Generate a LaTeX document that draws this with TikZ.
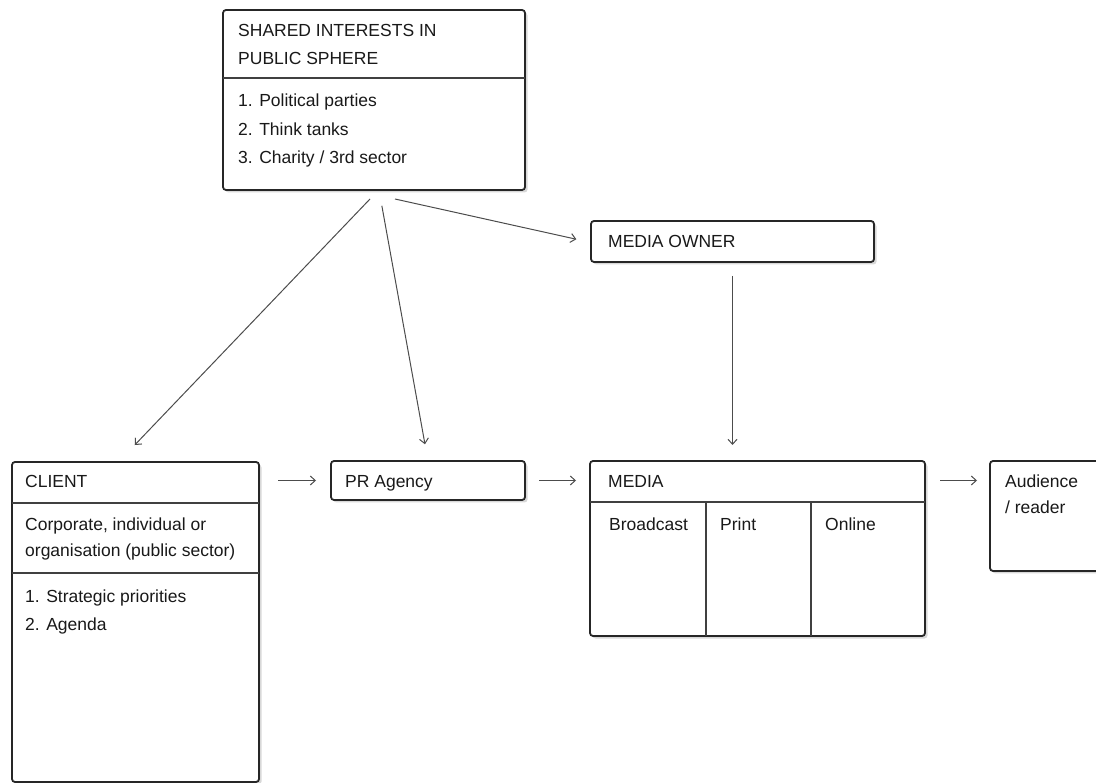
\documentclass[tikz,border=0pt]{standalone}
\usepackage{fontspec}
\setmainfont{Liberation Sans}
\usetikzlibrary{arrows.meta,shadows}

\begin{document}
\begin{tikzpicture}[%
      x=1pt, y=-1pt,
      box/.style={draw=black!85, line width=1.8pt, rounded corners=3pt, fill=white,
        drop shadow={shadow xshift=2.5pt, shadow yshift=-2.5pt, fill=black!30},
        anchor=north west, inner sep=0pt, outer sep=0pt},
      rule/.style={draw=black!75, line width=1.1pt},
      label/.style={anchor=base west, inner sep=0pt, text=black!90,
        font=\fontsize{17.5}{21}\selectfont},
      conn/.style={draw=black!70, line width=1pt,
        -{Straight Barb[length=5pt,width=9pt]}},
      ]
      \clip (0,0) rectangle (1096,783);

      % boxes
      \node[box, minimum width=302pt, minimum height=180pt] (shared) at (223,10) {};
      \node[box, minimum width=283pt, minimum height=41pt] (mowner) at (591,221) {};
      \node[box, minimum width=247pt, minimum height=320pt] (client) at (12,462) {};
      \node[box, minimum width=194pt, minimum height=39pt] (pr) at (331,461) {};
      \node[box, minimum width=335pt, minimum height=175pt] (media) at (590,461) {};
      \node[box, minimum width=130pt, minimum height=110pt] (aud) at (990,461) {};

      % dividers
      \draw[rule] ([yshift=-68pt]shared.north west) -- ([yshift=-68pt]shared.north east);
      \draw[rule] ([yshift=-41pt]client.north west) -- ([yshift=-41pt]client.north east);
      \draw[rule] ([yshift=-111pt]client.north west) -- ([yshift=-111pt]client.north east);
      \draw[rule] ([yshift=-41pt]media.north west) -- ([yshift=-41pt]media.north east);
      \draw[rule] ([shift={(116pt,-41pt)}]media.north west) -- ([xshift=116pt]media.south west);
      \draw[rule] ([shift={(221pt,-41pt)}]media.north west) -- ([xshift=221pt]media.south west);

      % texts
      \node[label] (sharedA) at (238,36.5) {SHARED INTERESTS IN};
      \node[label] (sharedB) at (238,65) {PUBLIC SPHERE};
      \node[label] (sharedC) at (238,107) {1. Political parties};
      \node[label] (sharedD) at (238,135.5) {2. Think tanks};
      \node[label] (sharedE) at (238,164) {3. Charity / 3rd sector};

      \node[label] (mownerA) at (608,248) {MEDIA OWNER};

      \node[label] (clientA) at (25,488) {CLIENT};
      \node[label] (clientB) at (25,531) {Corporate, individual or};
      \node[label] (clientC) at (25,557) {organisation (public sector)};
      \node[label] (clientD) at (25,602) {1. Strategic priorities};
      \node[label] (clientE) at (25,630) {2. Agenda};

      \node[label] (prA) at (345,488) {PR Agency};

      \node[label] (mediaA) at (608,488) {MEDIA};
      \node[label] (mediaB) at (609,531) {Broadcast};
      \node[label] (mediaC) at (720,531) {Print};
      \node[label] (mediaD) at (825,531) {Online};

      \node[label] (audA) at (1005,488) {Audience};
      \node[label] (audB) at (1005,514) {/ reader};

      % connectors
      \draw[conn, shorten <=12.4pt, shorten >=23.5pt] ([xshift=4.6pt]shared.south) -- ([xshift=-17pt]client.north);
      \draw[conn, shorten <=16pt, shorten >=17pt] ([xshift=5pt]shared.south) -- (pr.north);
      \draw[conn, shorten >=15pt] ([shift={(21pt,-9pt)}]shared.south) -- ([yshift=-1pt]mowner.west);
      \draw[conn, shorten <=14pt, shorten >=16pt] (mowner.south) -- (mowner.south |- media.north);
      \draw[conn, shorten <=19pt, shorten >=15pt] (client.east |- pr.west) -- (pr.west);
      \draw[conn, shorten <=14pt, shorten >=14pt] (pr.east) -- (pr.east -| media.west);
      \draw[conn, shorten <=15pt, shorten >=13pt] (pr.east -| media.east) -- (pr.east -| aud.west);
      \end{tikzpicture}
\end{document}
